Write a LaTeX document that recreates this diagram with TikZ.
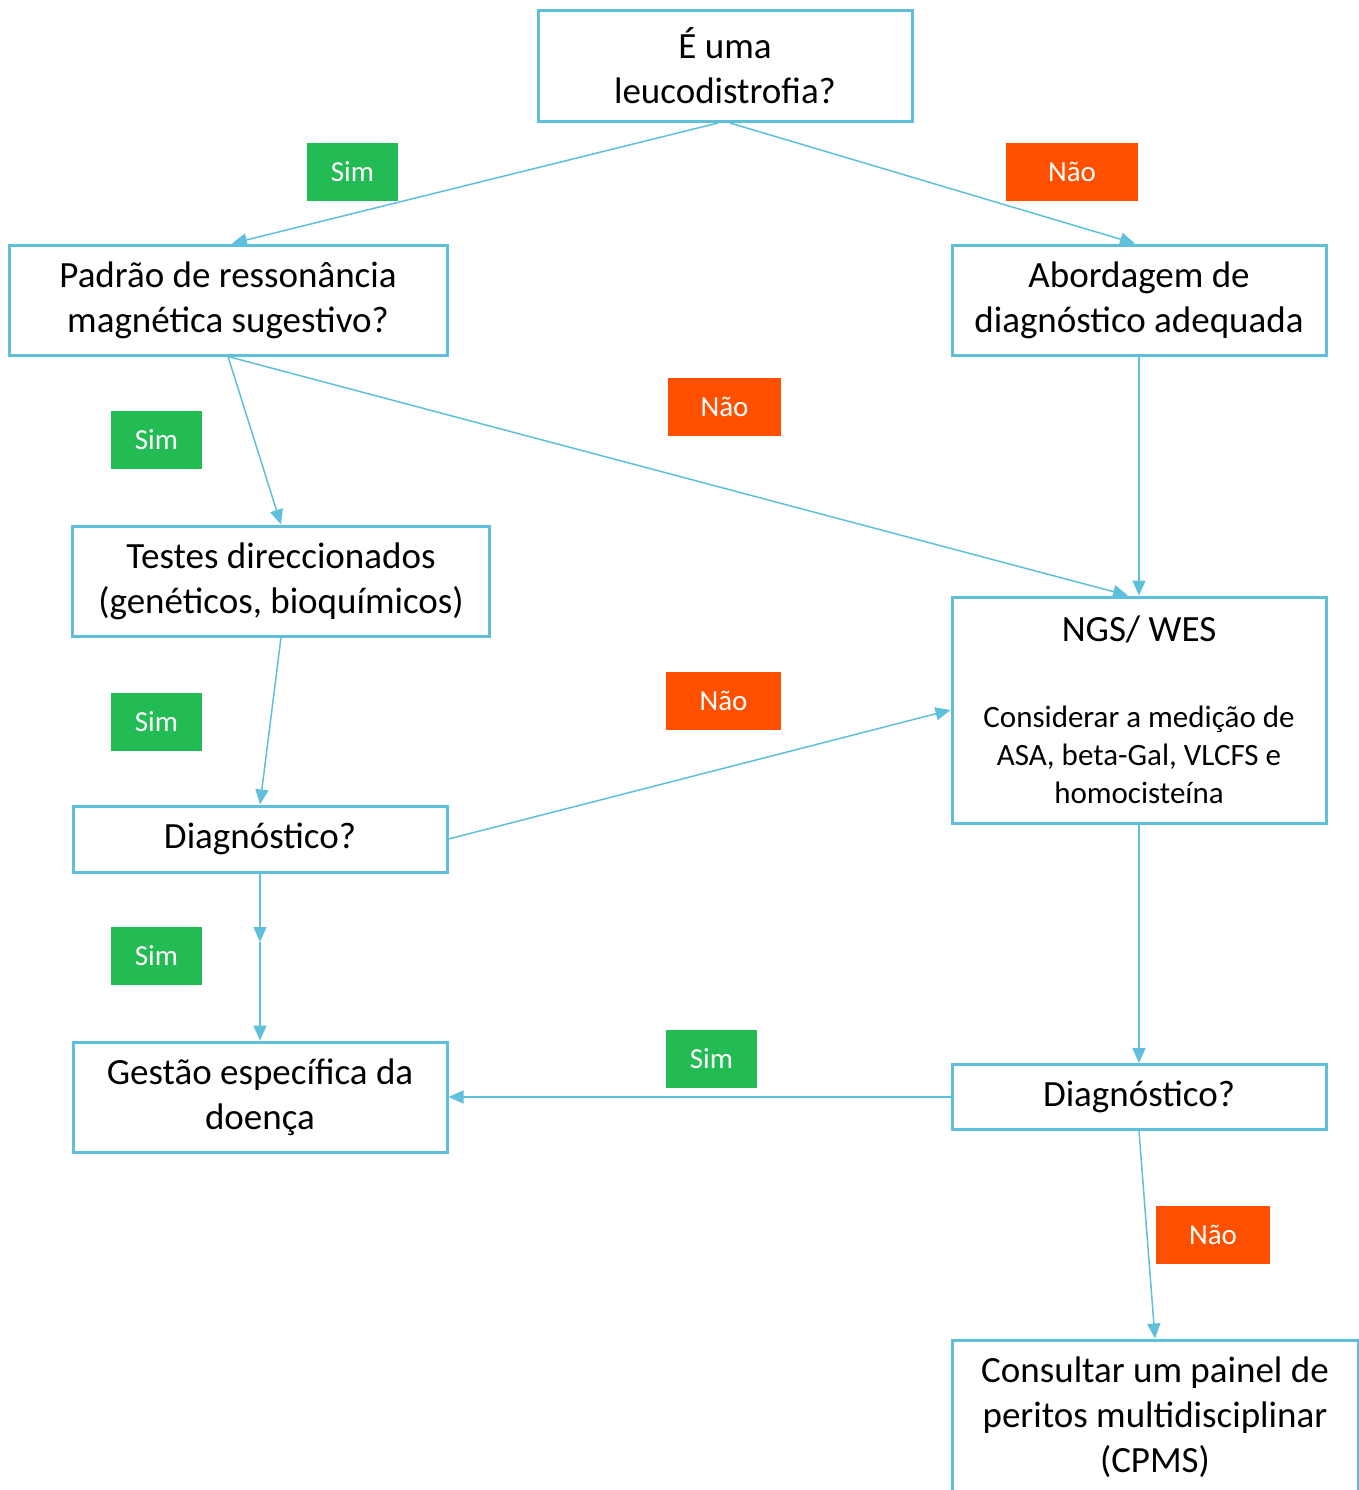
\documentclass[tikz,border=0pt]{standalone}
\usepackage{fontspec}
\setmainfont{Carlito}
\usetikzlibrary{positioning, arrows.meta}
\definecolor{boxBlue}{RGB}{94,192,219}
\definecolor{simGreen}{RGB}{34,187,84}
\definecolor{naoOrange}{RGB}{255,80,0}
\tikzstyle{flowBox} = [shape=rectangle, draw=boxBlue, text=black, line width=1.5pt,
	align=center, fill=white, inner sep=0pt, font=\fontsize{18.5}{22.5}\selectfont]
\tikzstyle{flowArrow} = [line width=0.75pt, draw=boxBlue, -{Triangle[length=7.5pt,width=6.5pt]}, fill=boxBlue]
\tikzstyle{FlowBox} = [flowBox, minimum width=187pt, minimum height=55pt]
\tikzstyle{simLabel} = [shape=rectangle, fill=simGreen, text=white, inner sep=0pt,
	minimum width=45.5pt, minimum height=29pt, font=\fontsize{14.5}{17}\selectfont]
\tikzstyle{naoLabel} = [simLabel, fill=naoOrange, minimum width=57pt]
\newcommand{\smallLine}{\fontsize{15.5}{19}\selectfont}

\begin{document}
\begin{tikzpicture}[x=0.5pt, y=-0.5pt]
	\useasboundingbox (0,0) rectangle (1359,1490);
	\node (Leuco) at (725,66) [FlowBox, minimum height=55.5pt] {É uma\\leucodistrofia?};
	\node (Padrao) at (228,300) [FlowBox, minimum width=219pt] {Padrão de ressonância\\magnética sugestivo?};
	\node (Abord) at (1139,300) [FlowBox] {Abordagem de\\diagnóstico adequada};
	\node (Testes) at (281,581) [FlowBox, minimum width=208.5pt] {Testes direccionados\\(genéticos, bioquímicos)};
	\node (NGS) at (1139,710) [FlowBox, minimum height=113pt] {NGS/ WES\\[20.5pt]{\smallLine Considerar a medição de}\\[-3.5pt]{\smallLine ASA, beta-Gal, VLCFS e}\\[-3.5pt]{\smallLine homocisteína}};
	\node (Diag1) at (260,839) [FlowBox, minimum height=33pt] {Diagnóstico?};
	\node (Gestao) at (260,1097) [FlowBox] {Gestão específica da\\doença};
	\node (Diag2) at (1139,1097) [FlowBox, minimum height=32.5pt] {Diagnóstico?};
	\node (CPMS) at (1155,1417) [FlowBox, minimum width=203pt, minimum height=77pt] {Consultar um painel de\\peritos multidisciplinar\\(CPMS)};
	\coordinate (DiagMid) at (260,942);

	\node (Sim1) at (352.5,171.5) [simLabel] {Sim};
	\node (Nao1) at (1072,172) [naoLabel, minimum width=66pt] {Não};
	\node (Sim2) at (156.5,440) [simLabel] {Sim};
	\node (Nao2) at (724.5,406.5) [naoLabel, minimum width=56.5pt] {Não};
	\node (Sim3) at (156.5,721.5) [simLabel] {Sim};
	\node (Nao3) at (723.5,700.5) [naoLabel, minimum width=57.5pt] {Não};
	\node (Sim4) at (156.5,956) [simLabel] {Sim};
	\node (Sim5) at (711.5,1059) [simLabel] {Sim};
	\node (Nao4) at (1213,1235) [naoLabel] {Não};

	\draw [flowArrow] ([xshift=-3.5pt]Leuco.south) -- ([xshift=2pt]Padrao.north);
	\draw [flowArrow] ([xshift=2.5pt]Leuco.south) -- ([xshift=-2pt]Abord.north);
	\draw [flowArrow] (Padrao.south) -- (Testes.north);
	\draw [flowArrow] (Padrao.south) -- ([xshift=-5.5pt]NGS.north);
	\draw [flowArrow] (Abord.south) -- (NGS.north);
	\draw [flowArrow] (Testes.south) -- (Diag1.north);
	\draw [flowArrow] (Diag1.east) -- (NGS.west);
	\draw [flowArrow] (Diag1.south) -- (DiagMid);
	\draw [flowArrow] (DiagMid) -- (Gestao.north);
	\draw [flowArrow] (NGS.south) -- (Diag2.north);
	\draw [flowArrow] (Diag2.west) -- (Gestao.east);
	\draw [flowArrow] (Diag2.south) -- (CPMS.north);
\end{tikzpicture}
\end{document}
